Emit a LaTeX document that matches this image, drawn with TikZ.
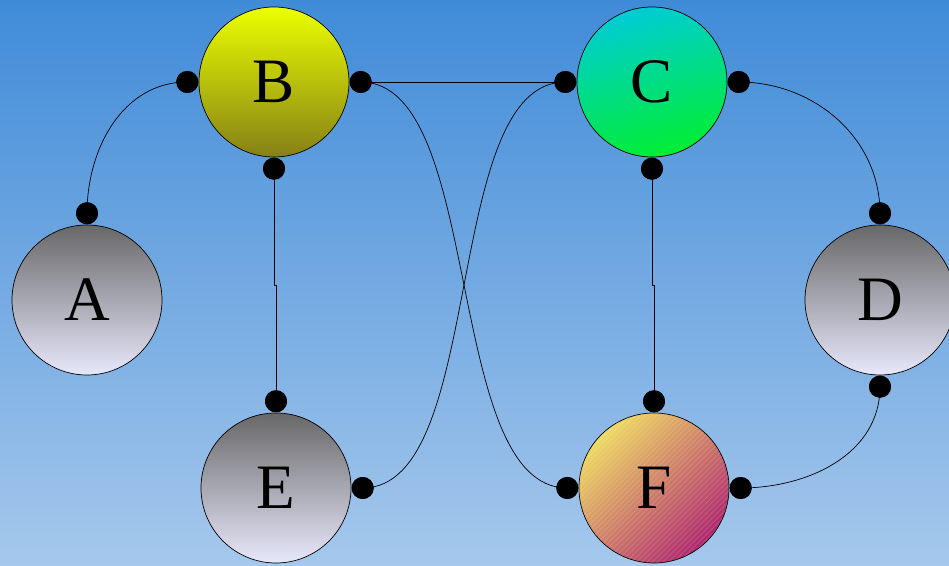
\documentclass[tikz,border=0pt]{standalone}
\usepackage{fontspec}
\setmainfont{Liberation Serif}
\usetikzlibrary{positioning,calc,patterns}

\definecolor{skytop}{RGB}{64,139,216}
\definecolor{skybottom}{RGB}{166,200,236}
\definecolor{greytop}{RGB}{104,104,104}
\definecolor{greybottom}{RGB}{232,232,252}
\definecolor{yellowtop}{RGB}{236,255,0}
\definecolor{yellowbottom}{RGB}{134,128,22}
\definecolor{cyantop}{RGB}{0,204,214}
\definecolor{greenbottom}{RGB}{0,238,50}
\definecolor{sandtop}{RGB}{238,218,100}
\definecolor{plumbottom}{RGB}{176,40,112}

\begin{document}
\begin{tikzpicture}[
    thin, %
    auto
    ]

    \tikzset{
    ball/.style = {circle, draw = black, thin, minimum size = 3cm,
        inner sep = 0pt, font = \fontsize{36}{40}\selectfont},
    greyball/.style = {ball, top color = greytop, bottom color = greybottom},
    dot/.style = {circle, fill = black, inner sep = 0pt, minimum size = 0.44cm}
    }

    % background
    \fill[top color = skytop, bottom color = skybottom] (0,0) rectangle (18.98,11.32);
    \useasboundingbox (0,0) rectangle (18.98,11.32);

    \node[greyball] (A) at (1.74,5.32) {A};
    \node[ball, top color = yellowtop, bottom color = yellowbottom] (B) at (5.48,9.68) {B};
    \node[ball, top color = cyantop, bottom color = greenbottom,
        shading angle = 15] (C) at (13.04,9.68) {C};
    \node[greyball] (D) at (17.6,5.32) {D};
    \node[greyball] (E) at (5.52,1.56) {E};
    \node[ball, top color = sandtop, bottom color = plumbottom, shading angle = 45,
        postaction = {pattern = north east lines, pattern color = white, opacity = 0.15}]
        (F) at (13.08,1.56) {F};

    % connection points
    \node[dot, above = 0pt of A] (a-n) {};
    \node[dot, left = 0pt of B]  (b-w) {};
    \node[dot, right = 0pt of B] (b-e) {};
    \node[dot, below = 0pt of B] (b-s) {};
    \node[dot, left = 0pt of C]  (c-w) {};
    \node[dot, right = 0pt of C] (c-e) {};
    \node[dot, below = 0pt of C] (c-s) {};
    \node[dot, above = 0pt of D] (d-n) {};
    \node[dot, below = 0pt of D] (d-s) {};
    \node[dot, above = 0pt of E] (e-n) {};
    \node[dot, right = 0pt of E] (e-e) {};
    \node[dot, above = 0pt of F] (f-n) {};
    \node[dot, left = 0pt of F]  (f-w) {};
    \node[dot, right = 0pt of F] (f-e) {};

    \path (a-n.center) edge[out=90, in=180]  (b-w.center);
    \path (b-e.center) edge                  (c-w.center);
    \path (b-e.center) edge[out=0, in=180, looseness=0.7] (f-w.center);
    \path (c-w.center) edge[out=180, in=0, looseness=0.7] (e-e.center);
    \path (c-e.center) edge[out=0, in=90]    (d-n.center);
    \path (d-s.center) edge[out=-90, in=0]   (f-e.center);
    \draw (b-s.center) |- ($(b-s)!0.5!(e-n)$) -| (e-n.center);
    \draw (c-s.center) |- ($(c-s)!0.5!(f-n)$) -| (f-n.center);

    % dots on top of the lines
    \foreach \p in {a-n,b-w,b-e,b-s,c-w,c-e,c-s,d-n,d-s,e-n,e-e,f-n,f-w,f-e}
        \fill (\p) circle (0.22);

\end{tikzpicture}
\end{document}
